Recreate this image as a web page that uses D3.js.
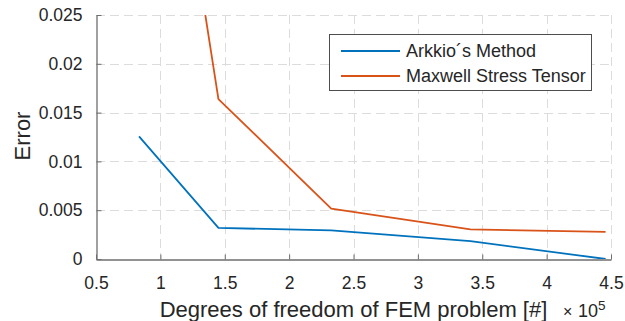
<!DOCTYPE html>
<html>
<head>
<meta charset="utf-8">
<script src="https://cdn.jsdelivr.net/npm/d3@7"></script>
<style>
  html, body { margin: 0; padding: 0; background: #fff; }
  svg { display: block; font-family: "Liberation Sans", Arial, Helvetica, sans-serif; }
</style>
</head>
<body>
<svg id="chart" width="625" height="321"></svg>
<script>
// Degrees of freedom of each FEM mesh
const dofs = [83400, 145100, 232700, 340800, 445800];
// Torque error for each method
const arkkioError = [0.01257, 0.00318, 0.00294, 0.00184, 0.0];
const maxwellError = [0.0685, 0.01639, 0.00516, 0.00304, 0.00277];
const seriesNames = ["Arkkio´s Method", "Maxwell Stress Tensor"];
const seriesColors = ["#0072BD", "#D95319"];
// Axis ticks
const xTicks = [0.5e5, 1e5, 1.5e5, 2e5, 2.5e5, 3e5, 3.5e5, 4e5, 4.5e5];
const yTicks = [0, 0.005, 0.01, 0.015, 0.02, 0.025];
const xTickLabels = ["0.5", "1", "1.5", "2", "2.5", "3", "3.5", "4", "4.5"];
const yTickLabels = ["0", "0.005", "0.01", "0.015", "0.02", "0.025"];

const svg = d3.select("#chart");
const plotL = 96, plotR = 611, plotT = 15, plotB = 259;
const textColor = "#262626";
const axisColor = "#6e6e6e";

const x = d3.scaleLinear().domain([0.5e5, 4.5e5]).range([plotL, plotR]);
const y = d3.scaleLinear().domain([0, 0.025]).range([plotB, plotT]);

// grid
const grid = svg.append("g").attr("stroke", "#dcdcdc").attr("stroke-width", 1)
  .attr("stroke-dasharray", "9,5");
grid.selectAll("line.vx").data(xTicks.slice(1)).join("line")
  .attr("x1", d => Math.round(x(d)) + 0.5).attr("x2", d => Math.round(x(d)) + 0.5)
  .attr("y1", plotT).attr("y2", plotB);
grid.selectAll("line.hy").data(yTicks.slice(1)).join("line")
  .attr("y1", d => Math.round(y(d)) + 0.5).attr("y2", d => Math.round(y(d)) + 0.5)
  .attr("x1", plotL).attr("x2", plotR);

// axes
const xAxis = d3.axisBottom(x).tickValues(xTicks)
  .tickFormat((d, i) => xTickLabels[i]).tickSizeInner(-5).tickSizeOuter(0).tickPadding(17);
const yAxis = d3.axisLeft(y).tickValues(yTicks)
  .tickFormat((d, i) => yTickLabels[i]).tickSizeInner(-5).tickSizeOuter(0).tickPadding(14);

const gx = svg.append("g").attr("transform", `translate(0,${Math.round(plotB) + 0.5})`).call(xAxis);
const gy = svg.append("g").attr("transform", `translate(${plotL + 0.5},0)`).call(yAxis);
[gx, gy].forEach(g => {
  g.select(".domain").attr("stroke", axisColor).attr("stroke-width", 1.3);
  g.selectAll(".tick line").attr("stroke", axisColor).attr("stroke-width", 1);
  g.selectAll(".tick text").attr("fill", textColor).attr("font-size", 17.5)
    .attr("font-family", "Liberation Sans, Arial, sans-serif");
});

// lines, clipped to the axes box
svg.append("clipPath").attr("id", "plotClip").append("rect")
  .attr("x", plotL).attr("y", plotT).attr("width", plotR - plotL).attr("height", plotB - plotT);
const line = d3.line().x(d => x(d[0])).y(d => y(d[1]));
const series = [arkkioError, maxwellError];
const lines = svg.append("g").attr("clip-path", "url(#plotClip)");
series.forEach((vals, i) => {
  lines.append("path")
    .datum(dofs.map((d, k) => [d, vals[k]]))
    .attr("d", line)
    .attr("fill", "none")
    .attr("stroke", seriesColors[i])
    .attr("stroke-width", 1.8)
    .attr("stroke-linejoin", "round");
});

// axis labels
svg.append("text")
  .attr("x", (plotL + plotR) / 2).attr("y", 316.5)
  .attr("text-anchor", "middle").attr("font-size", 22).attr("fill", textColor)
  .text("Degrees of freedom of FEM problem [#]");
svg.append("text")
  .attr("transform", `translate(29.5,136) rotate(-90)`)
  .attr("text-anchor", "middle").attr("font-size", 22).attr("fill", textColor)
  .text("Error");

// exponent multiplier of the x axis
const ex = svg.append("text").attr("x", 563).attr("y", 317).attr("fill", textColor).attr("font-size", 17);
ex.append("tspan").attr("font-size", 16).text("×");
ex.append("tspan").attr("x", 578).attr("font-size", 18).text("10");
ex.append("tspan").attr("font-size", 13.5).attr("dy", -7).text("5");

// legend
const lg = svg.append("g");
lg.append("rect").attr("x", 329.5).attr("y", 34.5).attr("width", 262).attr("height", 56)
  .attr("fill", "#fff").attr("stroke", "#4d4d4d").attr("stroke-width", 1);
seriesNames.forEach((name, i) => {
  const ly = 51 + i * 25;
  lg.append("line").attr("x1", 341).attr("x2", 400).attr("y1", ly).attr("y2", ly)
    .attr("stroke", seriesColors[i]).attr("stroke-width", 1.8);
  lg.append("text").attr("x", 406).attr("y", ly).attr("dy", "0.35em")
    .attr("font-size", 18).attr("fill", textColor).text(name);
});
</script>
</body>
</html>
